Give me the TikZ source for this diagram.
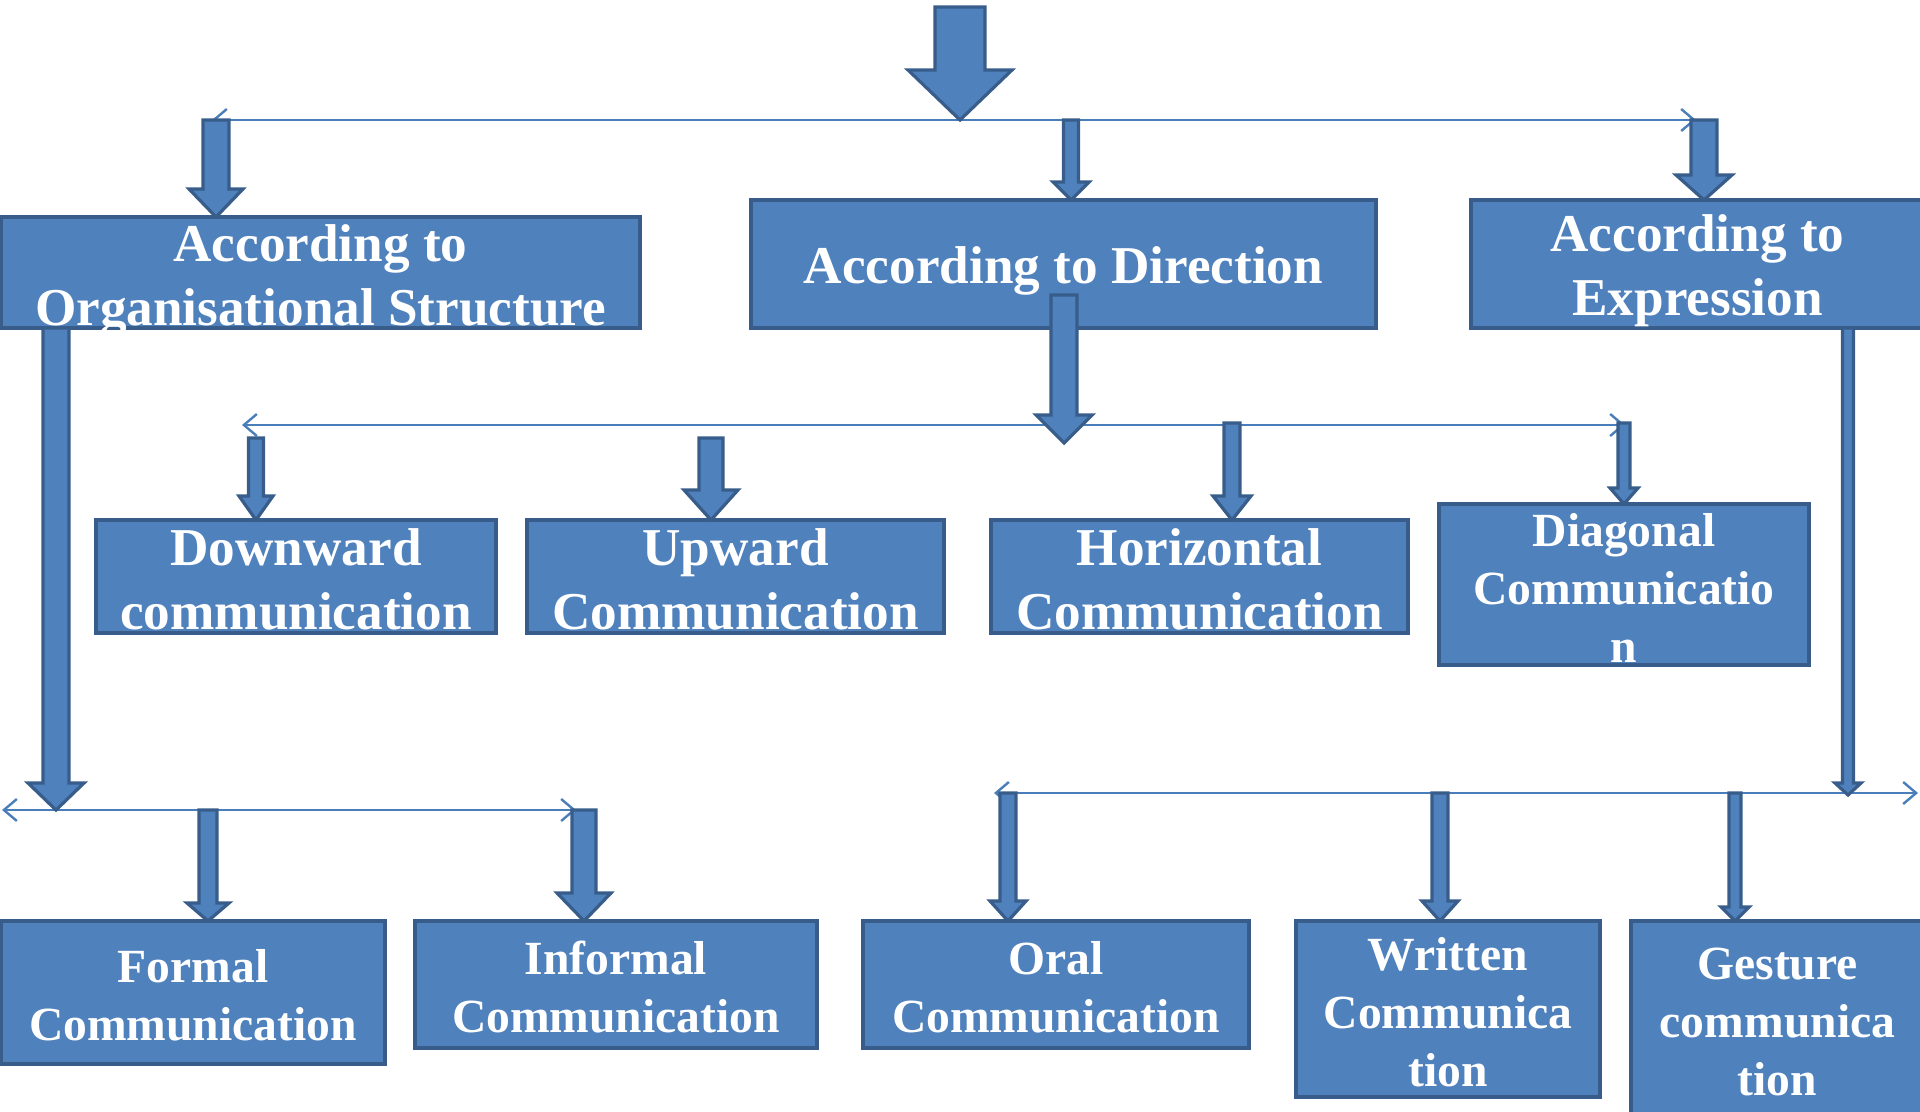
\documentclass[tikz,border=0pt]{standalone}
\usepackage{fontspec}
\setmainfont{Liberation Serif}
\usetikzlibrary{arrows.meta}
\definecolor{boxfill}{HTML}{4F81BD}
\definecolor{boxedge}{HTML}{385D8A}
\definecolor{thinline}{HTML}{4A7EBB}
\tikzset{
  boxst/.style={draw=boxedge, fill=boxfill, line width=2pt, inner sep=0pt},
  txtbig/.style={text=white, inner sep=0pt, align=center, font=\bfseries\fontsize{26.6}{32}\selectfont},
  txtsm/.style={text=white, inner sep=0pt, align=center, font=\bfseries\fontsize{23.8}{29}\selectfont},
  barrow/.style={draw=boxedge, fill=boxfill, line width=1.6pt, line join=miter},
  hline/.style={draw=thinline, line width=1.2pt, {Straight Barb[length=6.5pt,width=11pt]}-{Straight Barb[length=6.5pt,width=11pt]}}
}
% x, top, tip, shaft width, head width, head length (pixels)
\newcommand\blockarrow[6]{%
  \filldraw[barrow] ({#1-#4/2},#2) -- ({#1+#4/2},#2) -- ({#1+#4/2},{#3-#6}) -- ({#1+#5/2},{#3-#6}) -- (#1,#3) -- ({#1-#5/2},{#3-#6}) -- ({#1-#4/2},{#3-#6}) -- cycle;}
\begin{document}
\begin{tikzpicture}[x=0.5pt,y=-0.5pt]
\useasboundingbox (0,0) rectangle (1920,1112);
% line end coordinates
\coordinate (l1a) at (212,120); \coordinate (l1b) at (1696,120);
\coordinate (l2a) at (242,425); \coordinate (l2b) at (1625,425);
\coordinate (l3a) at (2,810);   \coordinate (l3b) at (576,810);
\coordinate (l4a) at (994,793); \coordinate (l4b) at (1918,793);
\draw[hline] (l1a) -- (l1b);
\draw[hline] (l2a) -- (l2b);
\draw[hline] (l3a) -- (l3b);
\draw[hline] (l4a) -- (l4b);
% boxes
\node[boxst, minimum width=319.5pt, minimum height=55.5pt] (org) at (320.5,272.5) {};
\node[boxst, minimum width=312.5pt, minimum height=64pt] (dir) at (1063.5,264) {};
\node[boxst, minimum width=226.5pt, minimum height=64pt] (exp) at (1697.5,264) {};
\node[boxst, minimum width=200pt, minimum height=56.5pt] (down) at (296,576.5) {};
\node[boxst, minimum width=208.5pt, minimum height=56.5pt] (up) at (735.5,576.5) {};
\node[boxst, minimum width=208.5pt, minimum height=56.5pt] (hor) at (1199.5,576.5) {};
\node[boxst, minimum width=185pt, minimum height=80.5pt] (diag) at (1624,584.5) {};
\node[boxst, minimum width=192pt, minimum height=71.5pt] (formal) at (193,992.5) {};
\node[boxst, minimum width=201pt, minimum height=63.5pt] (informal) at (616,984.5) {};
\node[boxst, minimum width=193pt, minimum height=63.5pt] (oral) at (1056,984.5) {};
\node[boxst, minimum width=152pt, minimum height=88pt] (written) at (1448,1009) {};
\node[boxst, minimum width=146.5pt, minimum height=98pt] (gesture) at (1777.5,1019) {};
% labels
\node[txtbig, yshift=-4pt] (torg) at (org.center) {According to\\Organisational Structure};
\node[txtbig, yshift=-3.5pt] (tdir) at (dir.center) {According to Direction};
\node[txtbig, yshift=-3.5pt] (texp) at (exp.center) {According to\\Expression};
\node[txtbig, yshift=-1.5pt] (tdown) at (down.center) {Downward\\communication};
\node[txtbig, yshift=-1.5pt] (tup) at (up.center) {Upward\\Communication};
\node[txtbig, yshift=-1.5pt] (thor) at (hor.center) {Horizontal\\Communication};
\node[txtsm, yshift=-1.5pt] (tdiag) at (diag.center) {Diagonal\\Communicatio\\n};
\node[txtsm, yshift=-1.5pt] (tformal) at (formal.center) {Formal\\Communication};
\node[txtsm, yshift=-1.5pt] (tinformal) at (informal.center) {Informal\\Communication};
\node[txtsm, yshift=-1.5pt] (toral) at (oral.center) {Oral\\Communication};
\node[txtsm, yshift=-1.5pt] (twritten) at (written.center) {Written\\Communica\\tion};
\node[txtsm, yshift=-1.5pt] (tgesture) at (gesture.center) {Gesture\\communica\\tion};
% block arrows
\blockarrow{960}{7}{120}{50}{104}{50}
\blockarrow{216}{120}{217}{26}{54}{28}
\blockarrow{1071}{120}{200}{15}{36}{18}
\blockarrow{1704}{120}{200}{26}{56}{25}
\blockarrow{1064}{295}{443}{26}{56}{28}
\blockarrow{256}{438}{520}{15}{34}{24}
\blockarrow{711}{438}{520}{24}{54}{30}
\blockarrow{1232}{423}{520}{16}{38}{24}
\blockarrow{1624}{423}{504}{12}{28}{16}
\blockarrow{56}{328}{810}{26}{56}{27}
\blockarrow{208}{810}{921}{18}{42}{18}
\blockarrow{584}{810}{921}{24}{54}{28}
\blockarrow{1848}{328}{795}{11}{26}{12}
\blockarrow{1008}{793}{921}{16}{36}{20}
\blockarrow{1440}{793}{921}{16}{36}{20}
\blockarrow{1735}{793}{921}{12}{28}{14}
\end{tikzpicture}
\end{document}
